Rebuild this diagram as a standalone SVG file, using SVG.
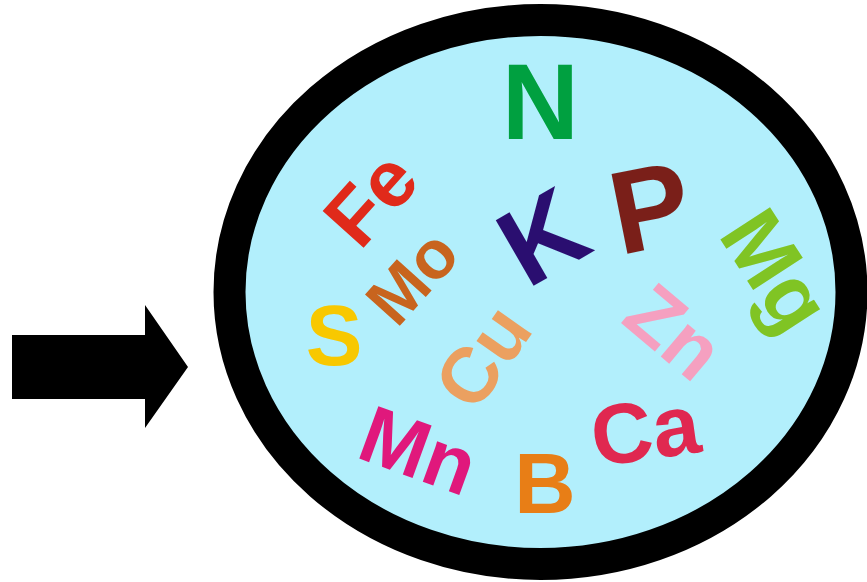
<svg xmlns="http://www.w3.org/2000/svg" width="867" height="582" viewBox="0 0 867 582">
<style>
  text { font-family: "Liberation Sans", Arial, sans-serif; font-weight: 700; text-anchor: middle; }
</style>
<rect width="867" height="582" fill="#ffffff"/>
<polygon id="arrow" points="12,335 145,335 145,305 188,367 145,428 145,399 12,399" fill="#000000"/>
<ellipse id="cell" cx="540.5" cy="292" rx="311" ry="272" fill="#B2EFFC" stroke="#000000" stroke-width="32"/>
<g id="elements">
  <text id="N" transform="translate(540.5,100.5)" dy="0.358em" font-size="107" fill="#00A040">N</text>
  <text id="K" transform="translate(542,235.5) rotate(-30)" dy="0.358em" font-size="110" fill="#2A0E70">K</text>
  <text id="P" transform="translate(650,206) rotate(-11.3)" dy="0.358em" font-size="118" fill="#7A1F19">P</text>
  <text id="Fe" transform="translate(370,198) rotate(-48)" dy="0.358em" font-size="80" fill="#E02A1A">Fe</text>
  <text id="Mo" transform="translate(411.5,276.5) rotate(-48)" dy="0.358em" font-size="68" fill="#C8641E">Mo</text>
  <text id="S" transform="translate(334,335)" dy="0.358em" font-size="85" fill="#F8C800">S</text>
  <text id="Cu" transform="translate(482,356) rotate(-55)" dy="0.358em" font-size="78" fill="#EBA060">Cu</text>
  <text id="Mn" transform="translate(419,449.5) rotate(20)" dy="0.358em" font-size="81" fill="#E0187C">Mn</text>
  <text id="B" transform="translate(545,482.5)" dy="0.358em" font-size="85" fill="#E87E16">B</text>
  <text id="Ca" transform="translate(645,429) rotate(-8)" dy="0.358em" font-size="85" fill="#E02850">Ca</text>
  <text id="Zn" transform="translate(675,331) rotate(40)" dy="0.358em" font-size="80" fill="#F5A0C0">Zn</text>
  <text id="Mg" transform="translate(777,270) rotate(57)" dy="0.358em" font-size="86" fill="#80C424">Mg</text>
</g>
</svg>
